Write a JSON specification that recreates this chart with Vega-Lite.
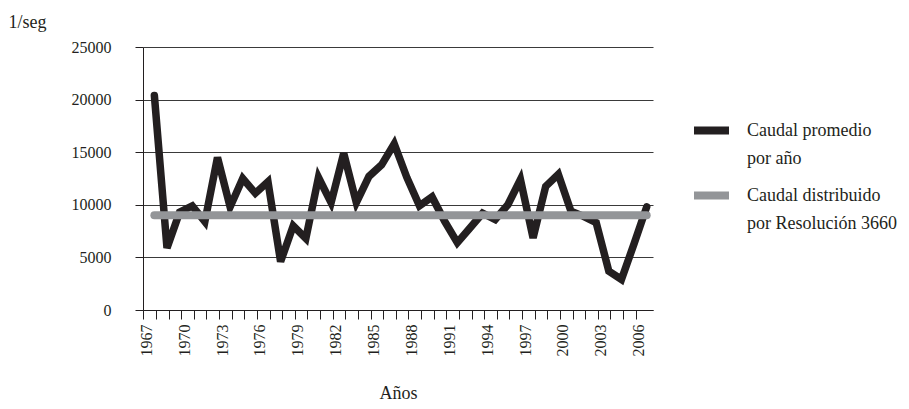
{
  "$schema": "https://vega.github.io/schema/vega-lite/v6.json",
  "autosize": {"type": "none"},
  "width": 510,
  "height": 263,
  "padding": {"left": 143, "top": 47, "right": 256, "bottom": 99},
  "background": "white",
  "datasets": {
    "promedio": [
      {"anio": 1967, "caudal": 20400, "serie": "Caudal promedio por año"},
      {"anio": 1968, "caudal": 5900, "serie": "Caudal promedio por año"},
      {"anio": 1969, "caudal": 9300, "serie": "Caudal promedio por año"},
      {"anio": 1970, "caudal": 9900, "serie": "Caudal promedio por año"},
      {"anio": 1971, "caudal": 8400, "serie": "Caudal promedio por año"},
      {"anio": 1972, "caudal": 14500, "serie": "Caudal promedio por año"},
      {"anio": 1973, "caudal": 9800, "serie": "Caudal promedio por año"},
      {"anio": 1974, "caudal": 12500, "serie": "Caudal promedio por año"},
      {"anio": 1975, "caudal": 11100, "serie": "Caudal promedio por año"},
      {"anio": 1976, "caudal": 12200, "serie": "Caudal promedio por año"},
      {"anio": 1977, "caudal": 4600, "serie": "Caudal promedio por año"},
      {"anio": 1978, "caudal": 8000, "serie": "Caudal promedio por año"},
      {"anio": 1979, "caudal": 6800, "serie": "Caudal promedio por año"},
      {"anio": 1980, "caudal": 12600, "serie": "Caudal promedio por año"},
      {"anio": 1981, "caudal": 10200, "serie": "Caudal promedio por año"},
      {"anio": 1982, "caudal": 14900, "serie": "Caudal promedio por año"},
      {"anio": 1983, "caudal": 10200, "serie": "Caudal promedio por año"},
      {"anio": 1984, "caudal": 12700, "serie": "Caudal promedio por año"},
      {"anio": 1985, "caudal": 13800, "serie": "Caudal promedio por año"},
      {"anio": 1986, "caudal": 15800, "serie": "Caudal promedio por año"},
      {"anio": 1987, "caudal": 12600, "serie": "Caudal promedio por año"},
      {"anio": 1988, "caudal": 9900, "serie": "Caudal promedio por año"},
      {"anio": 1989, "caudal": 10750, "serie": "Caudal promedio por año"},
      {"anio": 1990, "caudal": 8430, "serie": "Caudal promedio por año"},
      {"anio": 1991, "caudal": 6400, "serie": "Caudal promedio por año"},
      {"anio": 1992, "caudal": 7800, "serie": "Caudal promedio por año"},
      {"anio": 1993, "caudal": 9200, "serie": "Caudal promedio por año"},
      {"anio": 1994, "caudal": 8600, "serie": "Caudal promedio por año"},
      {"anio": 1995, "caudal": 10000, "serie": "Caudal promedio por año"},
      {"anio": 1996, "caudal": 12400, "serie": "Caudal promedio por año"},
      {"anio": 1997, "caudal": 6850, "serie": "Caudal promedio por año"},
      {"anio": 1998, "caudal": 11750, "serie": "Caudal promedio por año"},
      {"anio": 1999, "caudal": 12900, "serie": "Caudal promedio por año"},
      {"anio": 2000, "caudal": 9400, "serie": "Caudal promedio por año"},
      {"anio": 2001, "caudal": 8900, "serie": "Caudal promedio por año"},
      {"anio": 2002, "caudal": 8300, "serie": "Caudal promedio por año"},
      {"anio": 2003, "caudal": 3700, "serie": "Caudal promedio por año"},
      {"anio": 2004, "caudal": 2900, "serie": "Caudal promedio por año"},
      {"anio": 2005, "caudal": 6300, "serie": "Caudal promedio por año"},
      {"anio": 2006, "caudal": 9800, "serie": "Caudal promedio por año"}
    ],
    "distribuido": [
      {"anio": 1967, "caudal": 9000, "serie": "Caudal distribuido por Resolución 3660"},
      {"anio": 2006, "caudal": 9000, "serie": "Caudal distribuido por Resolución 3660"}
    ]
  },
  "encoding": {
    "x": {
      "field": "anio",
      "type": "quantitative",
      "scale": {"domain": [1966.1, 2006.5], "nice": false, "zero": false},
      "axis": {
        "title": "Años",
        "grid": false,
        "values": [1967,1968,1969,1970,1971,1972,1973,1974,1975,1976,1977,1978,1979,1980,1981,1982,1983,1984,1985,1986,1987,1988,1989,1990,1991,1992,1993,1994,1995,1996,1997,1998,1999,2000,2001,2002,2003,2004,2005,2006],
        "format": "d",
        "labelExpr": "(datum.value - 1967) % 3 == 0 ? datum.label : ''",
        "labelAngle": -90,
        "labelOverlap": false,
        "labelFlush": false,
        "tickOffset": -11,
        "labelOffset": 3,
        "tickSize": 9,
        "labelPadding": 5,
        "titlePadding": 28
      }
    },
    "y": {
      "field": "caudal",
      "type": "quantitative",
      "scale": {"domain": [0, 25000], "nice": false},
      "axis": {
        "title": "1/seg",
        "values": [0, 5000, 10000, 15000, 20000, 25000],
        "format": "d",
        "grid": true,
        "tickSize": 8,
        "labelPadding": 24,
        "titleAngle": 0,
        "titleX": -135,
        "titleY": -25,
        "titleAlign": "left",
        "titleBaseline": "middle"
      }
    },
    "color": {
      "field": "serie",
      "type": "nominal",
      "scale": {
        "domain": ["Caudal promedio por año", "Caudal distribuido por Resolución 3660"],
        "range": ["#231f20", "#939598"]
      },
      "legend": {
        "orient": "none",
        "legendX": 547,
        "legendY": 62,
        "title": null,
        "padding": 0,
        "symbolType": "stroke",
        "symbolSize": 1225,
        "symbolStrokeWidth": 8,
        "labelFont": "Liberation Serif",
        "labelFontSize": 18,
        "labelColor": "#231f20",
        "labelOffset": 14,
        "labelLimit": 400,
        "rowPadding": 6,
        "labelExpr": "datum.label == 'Caudal promedio por año' ? ['Caudal promedio', 'por año'] : ['Caudal distribuido', 'por Resolución 3660']"
      }
    }
  },
  "layer": [
    {
      "data": {"name": "promedio"},
      "mark": {"type": "line", "strokeWidth": 7.5, "strokeCap": "round", "strokeJoin": "miter"}
    },
    {
      "data": {"name": "distribuido"},
      "mark": {"type": "line", "strokeWidth": 8, "strokeCap": "round"}
    }
  ],
  "config": {
    "view": {"stroke": null},
    "font": "Liberation Serif",
    "style": {"guide-label": {"lineHeight": 28}},
    "axis": {
      "labelFont": "Liberation Serif",
      "labelFontSize": 16,
      "labelColor": "#231f20",
      "titleFont": "Liberation Serif",
      "titleFontSize": 18,
      "titleFontWeight": "normal",
      "titleColor": "#231f20",
      "domainColor": "#231f20",
      "domainWidth": 1,
      "tickColor": "#231f20",
      "tickWidth": 1,
      "gridColor": "#3a3a3a",
      "gridWidth": 1,
      "gridOpacity": 1
    }
  }
}
